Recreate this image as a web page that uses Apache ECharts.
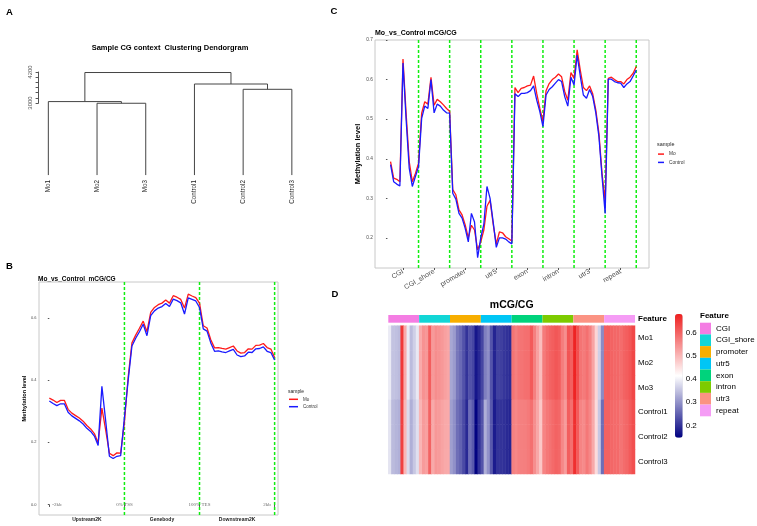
<!DOCTYPE html>
<html lang="en">
<head>
<meta charset="UTF-8">
<title>Methylation figure</title>
<script src="https://cdn.jsdelivr.net/npm/echarts@6/dist/echarts.min.js"></script>
<style>
    html, body { margin: 0; padding: 0; background: #fff; }
    #main { width: 757px; height: 526px; }
</style>
</head>
<body>
<div id="main"></div>
<script>
    // ---- A: clustering dendrogram ----
    var leafNames = ['Mo1', 'Mo2', 'Mo3', 'Control1', 'Control2', 'Control3'];
    // merges like R hclust: negative = leaf position, positive = earlier merge
    var mergeLeft = [-2, -1, -5, -4, 2];
    var mergeRight = [-3, 1, -6, 3, 4];
    var mergeHeight = [2990, 3055, 3530, 3735, 4180];
    var leafBase = 210;
    var dendroTicks = [3000, 3200, 3400, 3600, 3800, 4000, 4200];
    var dendroLabels = [3000, 4200];

    // ---- B: gene profile ----
    var bSegments = ['Upstream2K', 'Genebody', 'Downstream2K'];
    var bSegCenter = [10, 30, 50];
    var bBounds = [0, 20, 40, 60];
    var bDashed = [20, 40, 60];
    var bAnnoX = [2, 20, 40, 58];
    var bAnnoText = ['-2kb', '0% TSS', '100% TES', '2kb'];
    var bMo = [0.342, 0.336, 0.328, 0.335, 0.335, 0.306, 0.294, 0.286, 0.278, 0.268,
        0.254, 0.243, 0.228, 0.198, 0.31, 0.24, 0.165, 0.157, 0.166, 0.165,
        0.265, 0.41, 0.52, 0.545, 0.567, 0.59, 0.556, 0.618, 0.634, 0.643,
        0.648, 0.658, 0.648, 0.672, 0.667, 0.66, 0.632, 0.677, 0.671, 0.666,
        0.648, 0.575, 0.568, 0.53, 0.504, 0.505, 0.502, 0.5, 0.505, 0.51,
        0.494, 0.487, 0.489, 0.501, 0.5, 0.512, 0.513, 0.518, 0.505, 0.5,
        0.473];
    var bControl = [0.333, 0.325, 0.318, 0.324, 0.324, 0.297, 0.285, 0.277, 0.269, 0.259,
        0.245, 0.235, 0.22, 0.19, 0.38, 0.27, 0.155, 0.148, 0.155, 0.157,
        0.28, 0.40, 0.51, 0.535, 0.556, 0.58, 0.543, 0.608, 0.623, 0.632,
        0.637, 0.647, 0.637, 0.661, 0.656, 0.649, 0.613, 0.665, 0.66, 0.655,
        0.634, 0.565, 0.558, 0.52, 0.493, 0.494, 0.491, 0.489, 0.494, 0.499,
        0.481, 0.476, 0.478, 0.49, 0.489, 0.501, 0.502, 0.507, 0.493, 0.489,
        0.465];
    var bYTicks = [0, 0.2, 0.4, 0.6];

    // ---- C: feature profile (10 bins per feature) ----
    var features = ['CGI', 'CGI_shore', 'promoter', 'utr5', 'exon', 'intron', 'utr3', 'repeat'];
    var featureColors = ['#f47de3', '#12d6d6', '#f7ae00', '#00c6f5', '#00d37c', '#7dcb00', '#fb9383', '#f59cf5'];
    var cCenters = [5, 15, 25, 35, 45, 55, 65, 75];
    var cDashed = [10, 20, 30, 40, 50, 60, 70, 80];
    var cYTicks = [0.2, 0.3, 0.4, 0.5, 0.6, 0.7];
    var cMo = [0.393, 0.351, 0.348, 0.342, 0.652, 0.515, 0.393, 0.342, 0.363, 0.389,
        0.515, 0.544, 0.538, 0.606, 0.535, 0.55, 0.544, 0.536, 0.527, 0.52,
        0.322, 0.309, 0.271, 0.258, 0.233, 0.2, 0.232, 0.22, 0.17, 0.19,
        0.22, 0.28, 0.295, 0.235, 0.185, 0.215, 0.213, 0.203, 0.198, 0.192,
        0.58, 0.567, 0.578, 0.58, 0.584, 0.586, 0.609, 0.565, 0.527, 0.494,
        0.572, 0.59, 0.6, 0.606, 0.614, 0.607, 0.57, 0.548, 0.618, 0.603,
        0.675, 0.624, 0.58, 0.572, 0.584, 0.564, 0.523, 0.464, 0.363, 0.292,
        0.603, 0.606, 0.6, 0.595, 0.595, 0.589, 0.6, 0.606, 0.616, 0.633];
    var cControl = [0.385, 0.342, 0.336, 0.331, 0.642, 0.5, 0.376, 0.33, 0.355, 0.38,
        0.502, 0.533, 0.527, 0.6, 0.516, 0.538, 0.533, 0.523, 0.516, 0.515,
        0.313, 0.298, 0.262, 0.25, 0.224, 0.19, 0.262, 0.24, 0.15, 0.2,
        0.235, 0.33, 0.3, 0.24, 0.176, 0.2, 0.2, 0.197, 0.19, 0.185,
        0.564, 0.557, 0.565, 0.565, 0.567, 0.572, 0.584, 0.548, 0.519, 0.481,
        0.561, 0.575, 0.582, 0.591, 0.6, 0.595, 0.557, 0.533, 0.606, 0.586,
        0.662, 0.609, 0.561, 0.553, 0.575, 0.557, 0.516, 0.456, 0.355, 0.262,
        0.601, 0.601, 0.595, 0.592, 0.591, 0.58, 0.589, 0.595, 0.609, 0.624];

    // ---- D: heatmap ----
    var heatRows = ['Mo1', 'Mo2', 'Mo3', 'Control1', 'Control2', 'Control3'];
    var heatRowGroup = ['Mo', 'Mo', 'Mo', 'Control', 'Control', 'Control'];
    var heatTicks = [0.2, 0.3, 0.4, 0.5, 0.6];
    var heatMin = 0.147, heatMax = 0.68;

    var grey = '#4d4d4d';
    var chart = echarts.init(document.getElementById('main'), null, { renderer: 'canvas' });

    // dendrogram segments from merge table
    var nodeX = [], nodeH = [];
    function childPos(ref) {
        if (ref < 0) return [-ref, leafBase];
        return [nodeX[ref - 1], nodeH[ref - 1]];
    }
    var dendroData = [];
    for (var m = 0; m < mergeHeight.length; m++) {
        var l = childPos(mergeLeft[m]), r = childPos(mergeRight[m]);
        nodeX.push((l[0] + r[0]) / 2);
        nodeH.push(mergeHeight[m]);
        dendroData.push([l[0], l[1], r[0], r[1], mergeHeight[m]]);
    }

    function profileLine(name, vals, xOffset, axis, color) {
        return {
            type: 'line', name: name, xAxisIndex: axis, yAxisIndex: axis,
            data: vals.map(function (v, i) { return [i + xOffset, v]; }),
            symbol: 'none', silent: true, color: color, z: 3,
            lineStyle: { width: 1.3, color: color }
        };
    }

    // green dashed separators, full height of the panel
    function dashedLines(xs, axis) {
        return {
            type: 'custom', xAxisIndex: axis, yAxisIndex: axis, silent: true, z: 2,
            data: xs.map(function (x) { return [x]; }),
            encode: { x: 0 },
            renderItem: function (params, api) {
                var rect = params.coordSys;
                var x = api.coord([api.value(0), 0])[0];
                return {
                    type: 'line',
                    shape: { x1: x, y1: rect.y, x2: x, y2: rect.y + rect.height },
                    style: { stroke: '#11ee11', lineWidth: 1.5, lineDash: [3, 2] }
                };
            }
        };
    }

    var featureSeries = features.map(function (f, i) {
        return {
            type: 'bar', name: f, xAxisIndex: 3, yAxisIndex: 3, stack: 'ann',
            barWidth: '100%', data: [1], color: featureColors[i], silent: true
        };
    });

    var heatData = [];
    heatRows.forEach(function (row, r) {
        var src = heatRowGroup[r] === 'Mo' ? cMo : cControl;
        src.forEach(function (v, c) { heatData.push([c, r, v]); });
    });

    function titleText(text, left, top, size, extra) {
        var t = {
            text: text, left: left, top: top, padding: 0,
            textStyle: { fontSize: size, fontWeight: 'bold', color: '#000', fontFamily: 'Liberation Sans' }
        };
        if (extra) for (var k in extra) t[k] = extra[k];
        return t;
    }

    var series = [
        {
            type: 'custom', xAxisIndex: 0, yAxisIndex: 0, clip: false, silent: true,
            data: dendroData,
            encode: { x: [0, 2], y: [1, 3, 4] },
            renderItem: function (params, api) {
                var p1 = api.coord([api.value(0), api.value(1)]);
                var p2 = api.coord([api.value(0), api.value(4)]);
                var p3 = api.coord([api.value(2), api.value(4)]);
                var p4 = api.coord([api.value(2), api.value(3)]);
                return {
                    type: 'polyline', shape: { points: [p1, p2, p3, p4] },
                    style: { stroke: '#444', lineWidth: 1, fill: null }
                };
            }
        },
        dashedLines(bDashed, 1),
        profileLine('Mo', bMo, 0, 1, '#ff1a1a'),
        profileLine('Control', bControl, 0, 1, '#1a1aff'),
        {
            type: 'scatter', xAxisIndex: 1, yAxisIndex: 1, symbolSize: 0, silent: true,
            data: bAnnoX.map(function (x, i) { return { name: bAnnoText[i], value: [x, 0] }; }),
            label: { show: true, position: 'inside', formatter: '{b}', fontSize: 5,
                fontFamily: 'Liberation Serif', color: '#444' }
        },
        dashedLines(cDashed, 2),
        profileLine('Mo', cMo, 1, 2, '#ff1a1a'),
        profileLine('Control', cControl, 1, 2, '#1a1aff')
    ].concat(featureSeries);
    var heatIndex = series.length;
    series.push({ type: 'heatmap', xAxisIndex: 4, yAxisIndex: 4, data: heatData, silent: true });

    var option = {
        animation: false,
        textStyle: { fontFamily: 'Liberation Sans' },
        title: [
            titleText('A', 6, 7, 9.5),
            titleText('B', 6, 261.5, 9.5),
            titleText('C', 330.5, 6, 9.5),
            titleText('D', 331.5, 289, 9.5),
            titleText('Sample CG context  Clustering Dendorgram', 170, 44, 7.5, { textAlign: 'center' }),
            titleText('Mo_vs_Control  mCG/CG', 38, 276, 6.5),
            titleText('Mo_vs_Control mCG/CG', 375, 30, 7),
            titleText('mCG/CG', 511.7, 299.5, 10.5, { textAlign: 'center' }),
            { text: 'sample', left: 288, top: 389.5, padding: 0, textStyle: { fontSize: 5, fontWeight: 'normal', color: '#222' } },
            { text: 'sample', left: 657, top: 142.5, padding: 0, textStyle: { fontSize: 5.4, fontWeight: 'normal', color: '#222' } },
            titleText('Feature', 700, 312, 8)
        ],
        legend: [
            {
                data: ['Mo', 'Control'], orient: 'vertical', left: 289, top: 396.8, padding: 0,
                itemWidth: 9, itemHeight: 1.5, itemGap: 2.4, icon: 'rect', selectedMode: false,
                textStyle: { fontSize: 4.5, color: '#333' }
            },
            {
                data: ['Mo', 'Control'], orient: 'vertical', left: 658, top: 151.6, padding: 0,
                itemWidth: 6, itemHeight: 1.5, itemGap: 3.3, icon: 'rect', selectedMode: false,
                textStyle: { fontSize: 4.8, color: '#333' }
            },
            {
                data: features, orient: 'vertical', left: 700, top: 322.7, padding: 0,
                itemWidth: 11, itemHeight: 11.7, itemGap: 0, icon: 'rect', selectedMode: false,
                textStyle: { fontSize: 8, color: '#000' }
            }
        ],
        grid: [
            { left: 38.6, top: 72, width: 263, height: 31 },
            { left: 39, top: 282, width: 239, height: 233, show: true, borderColor: '#c8c8c8', borderWidth: 1 },
            { left: 375, top: 40, width: 274, height: 228, show: true, borderColor: '#c8c8c8', borderWidth: 1 },
            { left: 388.3, top: 315, width: 246.7, height: 7.7 },
            { left: 388.3, top: 325.7, width: 246.7, height: 148.3 },
            { left: 675, top: 314, width: 7.7, height: 123.7 }
        ],
        xAxis: [
            {
                gridIndex: 0, type: 'value', min: 0.8, max: 6.2, offset: 72,
                axisLine: { show: false }, axisTick: { show: false }, splitLine: { show: false },
                axisLabel: {
                    customValues: [1, 2, 3, 4, 5, 6], rotate: 90, margin: 5, fontSize: 6.3, color: '#222',
                    formatter: function (v) { return leafNames[Math.round(v) - 1]; }
                }
            },
            {
                gridIndex: 1, type: 'value', min: -2.75, max: 60.9,
                axisLine: { show: false }, splitLine: { show: false },
                axisTick: { customValues: bBounds, length: 2.5, lineStyle: { color: '#555' } },
                axisLabel: {
                    customValues: bSegCenter, margin: 2.5, fontSize: 5, fontWeight: 'bold', color: '#222',
                    formatter: function (v) { return bSegments[bSegCenter.indexOf(Math.round(v))]; }
                }
            },
            {
                gridIndex: 2, type: 'value', min: -4, max: 84.1,
                axisLine: { show: false }, splitLine: { show: false },
                axisTick: { customValues: cCenters, length: 2, lineStyle: { color: '#555' } },
                axisLabel: {
                    customValues: cCenters, rotate: 30, margin: 3, fontSize: 7, color: grey,
                    formatter: function (v) { return features[cCenters.indexOf(Math.round(v))]; }
                }
            },
            { gridIndex: 3, type: 'value', min: 0, max: 8, show: false },
            { gridIndex: 4, type: 'category', data: cMo.map(function (v, i) { return i; }), show: false },
            { gridIndex: 5, type: 'value', show: false }
        ],
        yAxis: [
            {
                gridIndex: 0, type: 'value', min: 3000, max: 4200,
                axisLine: { show: true, lineStyle: { color: '#555' } }, splitLine: { show: false },
                axisTick: { show: true, customValues: dendroTicks, length: 3, lineStyle: { color: '#555' } },
                axisLabel: { customValues: dendroLabels, rotate: 90, margin: 5, fontSize: 6, color: '#555',
                    formatter: function (v) { return String(v); } }
            },
            {
                gridIndex: 1, type: 'value', min: -0.034, max: 0.716,
                axisLine: { show: false }, splitLine: { show: false },
                axisTick: { show: true, customValues: bYTicks, length: 1.5, lineStyle: { color: '#555' } },
                axisLabel: { customValues: bYTicks, margin: 2.5, fontSize: 4, color: grey,
                    formatter: function (v) { return v.toFixed(1); } },
                name: 'Methylation level', nameLocation: 'middle', nameGap: 12, nameRotate: 90,
                nameTextStyle: { fontSize: 5.7, fontWeight: 'bold', color: '#000' }
            },
            {
                gridIndex: 2, type: 'value', min: 0.124, max: 0.7,
                axisLine: { show: false }, splitLine: { show: false },
                axisTick: { show: true, customValues: cYTicks, length: 1.5, lineStyle: { color: '#555' } },
                axisLabel: { customValues: cYTicks, margin: 2, fontSize: 4.8, color: grey,
                    formatter: function (v) { return v.toFixed(1); } },
                name: 'Methylation level', nameLocation: 'middle', nameGap: 11, nameRotate: 90,
                nameTextStyle: { fontSize: 7.5, fontWeight: 'bold', color: '#000' }
            },
            {
                gridIndex: 3, type: 'category', data: ['Feature'], position: 'right',
                axisLine: { show: false }, axisTick: { show: false },
                axisLabel: { margin: 3, fontSize: 8, fontWeight: 'bold', color: '#000' }
            },
            {
                gridIndex: 4, type: 'category', data: heatRows, position: 'right', inverse: true,
                axisLine: { show: false }, axisTick: { show: false },
                axisLabel: { margin: 3, fontSize: 7.8, color: '#000' }
            },
            {
                gridIndex: 5, type: 'value', min: heatMin, max: heatMax, position: 'right',
                axisLine: { show: false }, axisTick: { show: false }, splitLine: { show: false },
                axisLabel: { customValues: heatTicks, margin: 3, fontSize: 8, color: '#000',
                    formatter: function (v) { return v.toFixed(1); } }
            }
        ],
        visualMap: {
            type: 'continuous', seriesIndex: heatIndex, min: heatMin, max: heatMax,
            left: 675, top: 314, itemWidth: 7.7, itemHeight: 123.7, padding: 0,
            calculable: false, hoverLink: false, text: null,
            inRange: { color: ['#000080', '#ffffff', '#ee2020'] }
        },
        series: series
    };

    chart.setOption(option);
</script>
</body>
</html>
